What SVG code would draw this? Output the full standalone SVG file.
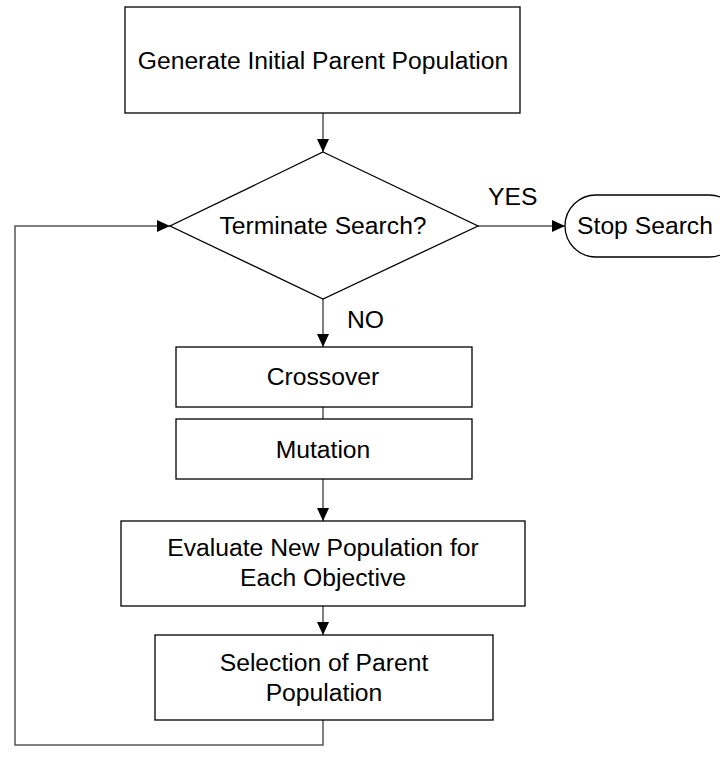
<svg xmlns="http://www.w3.org/2000/svg" width="720" height="773" viewBox="0 0 720 773">
<defs>
<style>
.box{fill:#fff;stroke:#000;stroke-width:1.3}
.conn{fill:none;stroke:#555;stroke-width:1.5}
text{font-family:"Liberation Sans",Arial,sans-serif;font-size:24.7px;fill:#000;text-anchor:middle}
.lbl{text-anchor:start}
</style>
<marker id="arr" markerWidth="13" markerHeight="12" refX="13" refY="6" orient="auto" markerUnits="userSpaceOnUse">
<path d="M0,0 L13,6 L0,12 Z" fill="#000"/>
</marker>
</defs>
<rect width="720" height="773" fill="#fff"/>
<g id="connectors">
<path class="conn" d="M323,113 V152" marker-end="url(#arr)"/>
<path class="conn" d="M478,226 H565" marker-end="url(#arr)"/>
<path class="conn" d="M323,299 V347" marker-end="url(#arr)"/>
<path class="conn" d="M323,407 V419"/>
<path class="conn" d="M323,479 V521" marker-end="url(#arr)"/>
<path class="conn" d="M323,606 V635" marker-end="url(#arr)"/>
<path class="conn" d="M323,720 V745 H15 V226 H170" marker-end="url(#arr)"/>
<text class="lbl" x="488" y="205">YES</text>
<text class="lbl" x="347" y="328">NO</text>
</g>
<g id="generate">
<rect class="box" x="125" y="7" width="395" height="106"/>
<text x="323" y="69">Generate Initial Parent Population</text>
</g>
<g id="terminate">
<polygon class="box" points="323,152 478,226 323,299 170,226"/>
<text x="323" y="234">Terminate Search?</text>
</g>
<g id="stop">
<rect class="box" x="565" y="195" width="175" height="62" rx="31" ry="31"/>
<text x="645" y="234">Stop Search</text>
</g>
<g id="crossover">
<rect class="box" x="176" y="347" width="296" height="60"/>
<text x="323" y="385">Crossover</text>
</g>
<g id="mutation">
<rect class="box" x="176" y="419" width="296" height="60"/>
<text x="323" y="458">Mutation</text>
</g>
<g id="evaluate">
<rect class="box" x="121" y="521" width="404" height="85"/>
<text x="323" y="556">Evaluate New Population for</text>
<text x="323" y="586">Each Objective</text>
</g>
<g id="selection">
<rect class="box" x="155" y="635" width="338" height="85"/>
<text x="324" y="671">Selection of Parent</text>
<text x="324" y="701">Population</text>
</g>
</svg>
